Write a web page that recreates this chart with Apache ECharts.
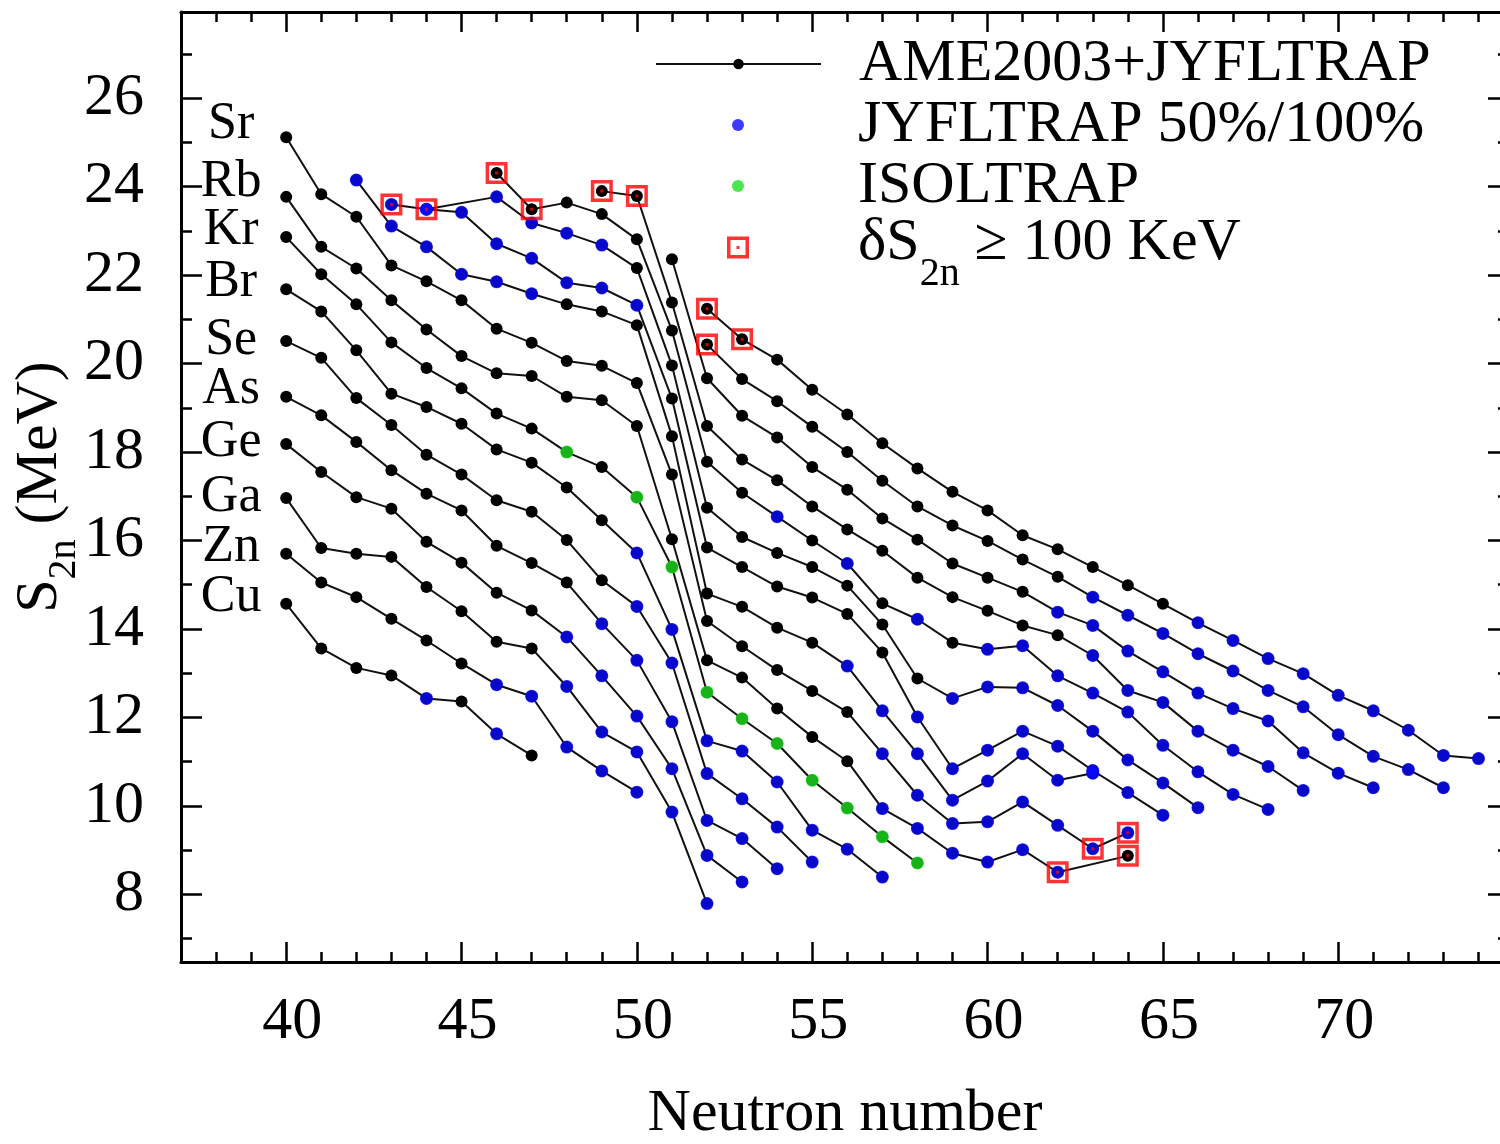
<!DOCTYPE html>
<html><head><meta charset="utf-8">
<script src="https://cdn.jsdelivr.net/npm/echarts@6/dist/echarts.min.js"></script>
<style>html,body{margin:0;padding:0;background:#fff}#c{width:1500px;height:1144px}</style>
</head><body><div id="c"></div>
<script>
// ---- Data: isotopic chains (S2n in MeV vs neutron number) ----
// source codes per point: k = AME2003+JYFLTRAP, b = JYFLTRAP 50%/100%, g = ISOLTRAP, '-' = missing
const chainElements = ['Cu','Zn','Ga','Ge','As','Se','Br','Kr','Rb','Sr','Y','Zr','Nb','Mo','Tc','Ru','Rh','Pd'];
const chainStartN   = [40,40,40,40,40,40,40,40,40,40,42,43,44,46,49,51,52,52];

const s2nCu = [14.57,13.56,13.12,12.95,12.43,12.36,11.63,11.14];
const s2nZn = [15.70,15.05,14.72,14.23,13.74,13.22,12.74,12.48,11.33,10.79,10.31];
const s2nGa = [16.96,15.83,15.70,15.63,14.95,14.40,13.71,13.56,12.70,11.67,11.22,9.86,7.79];
const s2nGe = [18.18,17.55,16.98,16.72,15.97,15.50,14.82,14.42,13.82,12.94,12.03,10.84,8.88,8.28];
const s2nAs = [19.25,18.83,18.23,17.59,17.06,16.68,15.88,15.49,15.05,14.12,13.29,11.90,9.67,9.26,8.58];
const s2nSe = [20.51,20.13,19.22,18.61,17.94,17.49,16.91,16.65,16.01,15.10,14.51,13.23,10.73,10.16,9.52,8.73];
const s2nBr = [21.68,21.18,20.30,19.32,19.02,18.64,18.06,17.76,17.20,16.46,15.72,13.99,11.47,11.24,10.54,9.45,9.02,8.39];
const s2nKr = [22.86,22.02,21.34,20.48,19.90,19.44,18.87,18.53,18.00,17.66,16.98,15.40,12.57,11.97,11.41,10.58,9.95,9.30,8.71];
const s2nRb = [23.77,22.64,22.15,21.43,20.77,20.17,19.78,19.72,19.25,19.17,18.59,16.03,13.29,12.90,12.20,11.56,11.01,9.94,9.49,8.93,8.73,9.01,8.50,null,8.87];
const s2nSr = [25.12,23.83,23.32,22.22,21.86,21.43,20.79,20.47,20.06,19.95,19.56,17.49,14.18,13.61,13.07,12.60,12.12,11.18,10.24,9.60,9.64,10.09,9.56,9.03,9.39];
const s2nY  = [24.15,23.11,22.64,22.02,21.85,21.58,21.34,21.18,20.87,18.36,14.80,14.50,14.03,13.69,13.16,12.15,11.18,10.13,10.56,11.18,10.58,10.74];
const s2nZr = [23.60,23.49,23.42,22.71,22.38,21.83,21.71,21.32,19.21,15.84,15.40,14.96,14.71,14.34,13.47,12.01,10.84,11.26,11.69,11.35,10.80,10.30,9.79];
const s2nNb = [23.49,null,23.77,23.18,22.95,22.68,22.16,19.96,16.74,16.08,15.72,15.40,14.98,14.10,12.88,12.43,12.69,12.67,12.27,11.69,11.04,10.52,9.96];
const s2nMo = [24.31,23.49,23.64,23.38,22.81,20.75,17.78,17.08,16.54,16.00,15.48,14.58,14.22,13.69,13.54,13.62,12.94,12.55,12.12,11.37,10.77,10.26,9.92];
const s2nTc = [23.90,23.79,21.38,18.59,17.83,17.36,16.77,16.25,15.77,15.16,14.72,14.41,14.08,13.86,13.40,12.61,12.34,11.69,11.26,10.89,10.35];
const s2nRu = [22.36,19.67,18.82,18.33,17.66,17.15,16.50,16.02,15.48,15.16,14.84,14.38,14.08,13.50,13.03,12.55,12.20,11.92,11.20,10.74,10.41];
const s2nRh = [20.43,19.65,19.15,18.57,18.00,17.35,16.77,16.34,15.99,15.57,15.18,14.72,14.31,13.90,13.44,13.05,12.61,12.24,11.61,11.12,10.82,10.41];
const s2nPd = [21.24,20.55,20.09,19.41,18.85,18.20,17.63,17.10,16.68,16.12,15.80,15.40,14.99,14.57,14.14,13.74,13.33,12.99,12.50,12.15,11.71,11.14,11.07];

const srcCu = 'kkkkbkbk';
const srcZn = 'kkkkkkbbbbb';
const srcGa = 'kkkkkkkkbbbbb';
const srcGe = 'kkkkkkkkbbbbbb';
const srcAs = 'kkkkkkkkkbbbbbb';
const srcSe = 'kkkkkkkkkkbbbbbb';
const srcBr = 'kkkkkkkkkkbbbbbbbb';
const srcKr = 'kkkkkkkkgkggggggggg';
const srcRb = 'kkkkkkkkkkkkkkkkkbbbbbb-k';
const srcSr = 'kkkkkkkkkkkkkkkkkbbbbbbbb';
const srcY  = 'bbbbbbkkkkkkkkbbbbbbbb';
const srcZr = 'bbbbbbbbkkkkkkkbbbbbbbb';
const srcNb = 'b-bbbbkkkkkkkkkbbbbbbbb';
const srcMo = 'kkkkkkkkbkbkbkbbbbbbbbb';
const srcTc = 'kkkkkkkkkkkkkkbbbbbbb';
const srcRu = 'kkkkkkkkkkkbbbbbbbbbb';
const srcRh = 'kkkkkkkkkkkbbbbbbbbbbb';
const srcPd = 'kkkkkkkkkkkkkkbbbbbbbbb';

// points with deltaS2n >= 100 keV : [element, N]
const boxedPoints = [['Zr',43],['Zr',44],['Mo',46],['Mo',47],['Tc',49],['Tc',50],
  ['Rh',52],['Pd',52],['Pd',53],['Rb',62],['Sr',63],['Rb',64],['Sr',64]];

// element labels at the left
const labelNames = ['Sr','Rb','Kr','Br','Se','As','Ge','Ga','Zn','Cu'];
const labelS2n   = [25.41,24.09,23.02,21.83,20.53,19.42,18.22,16.98,15.85,14.72];
const labelN     = 38.43;

// axis tick labels
const xTickLabels = [40,45,50,55,60,65,70];
const yTickLabels = [8,10,12,14,16,18,20,22,24,26];

const LEG1 = 'AME2003+JYFLTRAP';
const LEG2 = 'JYFLTRAP 50%/100%';
const LEG3 = 'ISOLTRAP';
const LEG4 = 'δS2n ≥ 100 KeV';

// ---- build ----
const chainS2n = [s2nCu,s2nZn,s2nGa,s2nGe,s2nAs,s2nSe,s2nBr,s2nKr,s2nRb,s2nSr,s2nY,s2nZr,s2nNb,s2nMo,s2nTc,s2nRu,s2nRh,s2nPd];
const chainSrc = [srcCu,srcZn,srcGa,srcGe,srcAs,srcSe,srcBr,srcKr,srcRb,srcSr,srcY,srcZr,srcNb,srcMo,srcTc,srcRu,srcRh,srcPd];
const FONT = "'Liberation Serif','DejaVu Serif',serif";
const BOX = 'path://M0,0H22V22H0Z M3.5,3.5V18.5H18.5V3.5Z M9.5,9.5H12.5V12.5H9.5Z';

const lineSeries = chainElements.map((el, i) => ({
  name: LEG1, type: 'line', xAxisIndex: 0, yAxisIndex: 0,
  data: chainS2n[i].map((v, j) => [chainStartN[i] + j, v]),
  connectNulls: true, symbol: 'circle', symbolSize: 12, showAllSymbol: true,
  itemStyle: { color: '#000' }, lineStyle: { color: '#111', width: 2 },
  emphasis: { disabled: true }, silent: true, z: 2
}));
function pick(code) {
  const out = [];
  chainS2n.forEach((arr, i) => arr.forEach((v, j) => {
    if (v != null && chainSrc[i][j] === code) out.push([chainStartN[i] + j, v]);
  }));
  return out;
}
const boxData = boxedPoints.map(([el, n]) => {
  const i = chainElements.indexOf(el);
  return [n, chainS2n[i][n - chainStartN[i]]];
});

const xMinor = [], yMinor = [];
for (let n = 38; n <= 74; n++) if (n % 5) xMinor.push(n);
for (let v = 7; v <= 27; v += 2) yMinor.push(v);
const xMajor = xTickLabels.slice();

const tickStyle = { color: '#000', width: 2.5 };
function xAx(pos, ticks, len, withLabels, withLine) {
  return {
    type: 'value', gridIndex: 0, position: pos, min: 37, max: 74.87, offset: 0,
    axisLine: { show: withLine, onZero: false, lineStyle: { color: '#000', width: 3 } },
    axisTick: { show: true, inside: true, length: len, customValues: ticks, lineStyle: tickStyle },
    axisLabel: withLabels ? { show: true, customValues: xTickLabels, fontFamily: FONT, fontSize: 60, lineHeight: 60, color: '#000', margin: 30, padding: [0, 0, 0, 12] } : { show: false },
    splitLine: { show: false },
    name: withLabels ? 'Neutron number' : '', nameLocation: 'middle', nameGap: 122, nameMoveOverlap: false,
    nameTextStyle: { fontFamily: FONT, fontSize: 60, lineHeight: 60, color: '#000' }
  };
}
function yAx(pos, ticks, len, withLabels, withLine) {
  return {
    type: 'value', gridIndex: 0, position: pos, min: 6.47, max: 27.95, offset: 0,
    axisLine: { show: withLine, onZero: false, lineStyle: { color: '#000', width: 3 } },
    axisTick: { show: true, inside: true, length: len, customValues: ticks, lineStyle: tickStyle },
    axisLabel: withLabels ? { show: true, customValues: yTickLabels, fontFamily: FONT, fontSize: 60, lineHeight: 60, color: '#000', margin: 37 } : { show: false },
    splitLine: { show: false },
    name: withLabels ? '{a|S}{s|2n}{a| (MeV)}' : '', nameLocation: 'middle', nameRotate: 90, nameGap: 121, nameMoveOverlap: false,
    nameTextStyle: { fontFamily: FONT, color: '#000',
      rich: { a: { fontFamily: FONT, fontSize: 60, lineHeight: 60, padding: [10, 0, 0, 0], verticalAlign: 'top' },
              s: { fontFamily: FONT, fontSize: 40, lineHeight: 40, padding: [44, 0, 0, 0], verticalAlign: 'top' } } }
  };
}

const richLegend = {
  a: { fontFamily: FONT, fontSize: 60, lineHeight: 60, padding: [10, 0, 0, 0], verticalAlign: 'top', color: '#000' },
  s: { fontFamily: FONT, fontSize: 40, lineHeight: 40, padding: [51, 0, 0, 0], verticalAlign: 'top', color: '#000' }
};
function legText(pad) { return { fontFamily: FONT, fontSize: 60, lineHeight: 60, color: '#000', padding: pad }; }
const legBase = { padding: 0, selectedMode: false, symbolKeepAspect: true };

const option = {
  animation: false,
  backgroundColor: '#fff',
  grid: { left: 181, top: 12, width: 1328, height: 950, containLabel: false, outerBoundsMode: 'none' },
  xAxis: [ xAx('bottom', xMajor, 20, true, true), xAx('bottom', xMinor, 10, false, false),
           xAx('top', xMajor, 20, false, true), xAx('top', xMinor, 10, false, false) ],
  yAxis: [ yAx('left', yTickLabels, 21, true, true), yAx('left', yMinor, 11, false, false),
           yAx('right', yTickLabels, 21, false, true), yAx('right', yMinor, 11, false, false) ],
  legend: [
    Object.assign({}, legBase, { left: 655, top: 34, itemWidth: 165, itemHeight: 13, data: [{ name: LEG1 }], textStyle: legText([0, 0, 0, 33]) }),
    Object.assign({}, legBase, { left: 732, top: 95, itemWidth: 12, itemHeight: 12, data: [{ name: LEG2, icon: 'circle' }], textStyle: legText([0, 0, 0, 109]) }),
    Object.assign({}, legBase, { left: 732, top: 156, itemWidth: 12, itemHeight: 12, data: [{ name: LEG3, icon: 'circle' }], textStyle: legText([0, 0, 0, 109]) }),
    Object.assign({}, legBase, { left: 727, top: 203.5, itemWidth: 22, itemHeight: 22, data: [{ name: LEG4, icon: BOX }],
      formatter: () => '{a|δS}{s|2n}{a| ≥ 100 KeV}',
      textStyle: Object.assign(legText([0, 0, 28, 104]), { rich: richLegend }) })
  ],
  series: lineSeries.concat([
    { name: LEG2, type: 'scatter', data: pick('b'), symbol: 'circle', symbolSize: 13,
      itemStyle: { color: '#0a0aff' }, silent: true, z: 3 },
    { name: LEG3, type: 'scatter', data: pick('g'), symbol: 'circle', symbolSize: 13,
      itemStyle: { color: '#1ee01e' }, silent: true, z: 3 },
    { name: LEG4, type: 'scatter', data: boxData, symbol: BOX, symbolSize: 22, symbolKeepAspect: true,
      itemStyle: { color: '#ff0000' }, silent: true, z: 4 },
    { name: 'labels', type: 'scatter', symbol: 'circle', symbolSize: 0.1,
      itemStyle: { color: '#000', opacity: 1 }, silent: true, z: 5,
      data: labelNames.map((nm, i) => ({ name: nm, value: [labelN, labelS2n[i]] })),
      label: { show: true, position: 'inside', formatter: '{b}', fontFamily: FONT, fontSize: 52, color: '#000', textBorderWidth: 0, opacity: 1 } }
  ])
};
const chart = echarts.init(document.getElementById('c'), null, { renderer: 'canvas' });
chart.setOption(option);
</script></body></html>
